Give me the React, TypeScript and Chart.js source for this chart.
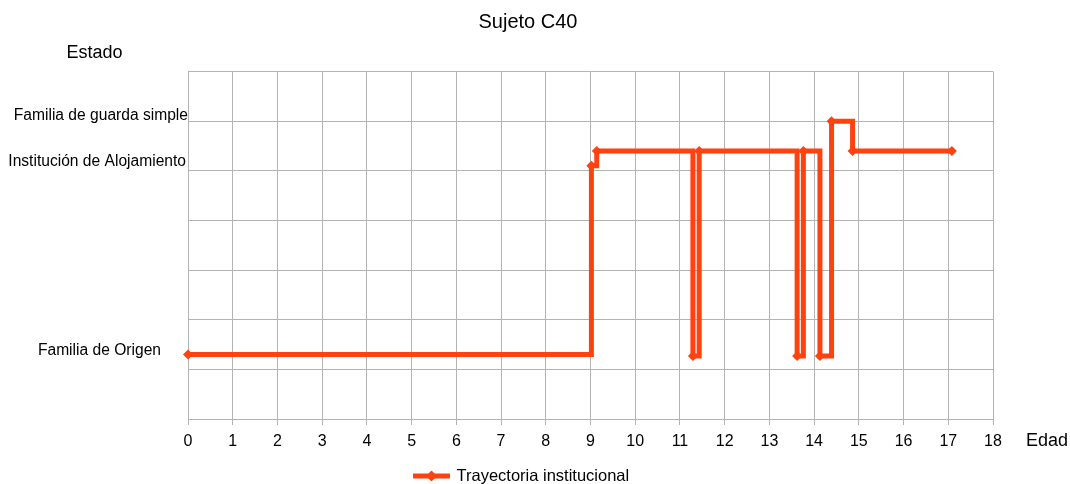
import React, { useEffect, useRef } from 'react';
import { Chart, registerables } from 'chart.js';

Chart.register(...registerables);

const TITLE = 'Sujeto C40';
const Y_TITLE = 'Estado';
const X_TITLE = 'Edad';
const SERIES_NAME = 'Trayectoria institucional';

// Edad (x) and estado (y) of each point of the trajectory
const AGES = [0, 9.02, 9.14, 11.29, 11.43, 13.62, 13.76, 14.13, 14.39, 14.86, 17.08];
const STATES = [1.3, 5.1, 5.4, 1.27, 5.4, 1.27, 5.4, 1.27, 6.0, 5.4, 5.4];

const X_MIN = 0;
const X_MAX = 18;
const Y_MIN = 0;
const Y_MAX = 7;

const STATE_LABELS = ['Familia de guarda simple', 'Institución de Alojamiento', 'Familia de Origen'];

// layout of the free text (right edge, baseline) in pixels
const STATE_LABEL_ANCHORS = [
  { right: 188, baseline: 120 },
  { right: 186, baseline: 166 },
  { right: 161, baseline: 355 },
];

const FONT = '"Liberation Sans", Arial, sans-serif';
const LINE_COLOR = '#ff420e';
const GRID_COLOR = '#b3b3b3';
const TEXT_COLOR = '#000000';

function drawLegend(ctx: CanvasRenderingContext2D, chart: any) {
  const ds = chart.data.datasets[0];
  const cy = 476;
  const x0 = 413;
  const x1 = 450;
  const cx = (x0 + x1) / 2;
  ctx.save();
  ctx.strokeStyle = ds.borderColor;
  ctx.lineWidth = 5;
  ctx.beginPath();
  ctx.moveTo(x0, cy);
  ctx.lineTo(x1, cy);
  ctx.stroke();
  ctx.fillStyle = ds.borderColor;
  ctx.beginPath();
  ctx.moveTo(cx - 5.5, cy);
  ctx.lineTo(cx, cy - 5.5);
  ctx.lineTo(cx + 5.5, cy);
  ctx.lineTo(cx, cy + 5.5);
  ctx.closePath();
  ctx.fill();
  ctx.fillStyle = TEXT_COLOR;
  ctx.font = `16.5px ${FONT}`;
  ctx.textAlign = 'left';
  ctx.textBaseline = 'middle';
  ctx.fillText(ds.label, 456.5, cy);
  ctx.restore();
}

const textPlugin = {
  id: 'freeText',
  afterDraw(chart: any) {
    const ctx = chart.ctx as CanvasRenderingContext2D;
    ctx.save();
    ctx.fillStyle = TEXT_COLOR;
    ctx.textBaseline = 'alphabetic';

    ctx.font = `20px ${FONT}`;
    ctx.textAlign = 'center';
    ctx.fillText(TITLE, 528, 27.5);

    ctx.font = `18px ${FONT}`;
    ctx.textAlign = 'left';
    ctx.fillText(Y_TITLE, 66.5, 58);
    ctx.fillText(X_TITLE, 1026, 445.5);

    ctx.font = `15.6px ${FONT}`;
    ctx.textAlign = 'right';
    STATE_LABELS.forEach((t, i) => {
      const a = STATE_LABEL_ANCHORS[i];
      ctx.fillText(t, a.right, a.baseline);
    });
    ctx.restore();
    drawLegend(ctx, chart);
  },
};

export default function App() {
  const ref = useRef<HTMLCanvasElement | null>(null);

  useEffect(() => {
    if (!ref.current) return;
    const chart = new Chart(ref.current, {
      type: 'line',
      data: {
        datasets: [
          {
            label: SERIES_NAME,
            data: AGES.map((x, i) => ({ x, y: STATES[i] })),
            borderColor: LINE_COLOR,
            backgroundColor: LINE_COLOR,
            borderWidth: 5,
            stepped: true,
            fill: false,
            pointStyle: 'rectRot',
            pointRadius: 5,
            pointBorderWidth: 0,
            pointBackgroundColor: LINE_COLOR,
            pointBorderColor: LINE_COLOR,
            clip: false as any,
          },
        ],
      },
      options: {
        animation: false,
        responsive: false,
        maintainAspectRatio: false,
        layout: { padding: { top: 71.5, left: 0, right: 29, bottom: 0 } },
        plugins: {
          title: { display: false },
          tooltip: { enabled: false },
          legend: { display: false },
        },
        scales: {
          x: {
            type: 'linear',
            min: X_MIN,
            max: X_MAX,
            ticks: {
              stepSize: 1,
              font: { size: 16, family: FONT },
              color: TEXT_COLOR,
              padding: 7,
              maxRotation: 0,
              autoSkip: false,
            },
            grid: { color: GRID_COLOR, tickLength: 6, tickColor: GRID_COLOR, lineWidth: 1 },
            border: { color: GRID_COLOR, width: 1 },
            afterFit: (s: any) => {
              s.height = 65;
            },
          },
          y: {
            type: 'linear',
            min: Y_MIN,
            max: Y_MAX,
            ticks: { stepSize: 1, display: false },
            grid: { color: GRID_COLOR, drawTicks: false, lineWidth: 1 },
            border: { display: false },
            afterFit: (s: any) => {
              s.width = 188;
            },
          },
          y2: {
            type: 'linear',
            position: 'right',
            ticks: { display: false },
            grid: { display: false, drawTicks: false },
            border: { display: false },
            afterFit: (s: any) => {
              s.width = 48;
            },
          },
        },
      },
      plugins: [textPlugin],
    });
    return () => chart.destroy();
  }, []);

  return (
    <div style={{ position: 'fixed', left: 0, top: 0, width: 1070, height: 484, background: '#fff' }}>
      <canvas ref={ref} width={1070} height={484} style={{ display: 'block' }} />
    </div>
  );
}
